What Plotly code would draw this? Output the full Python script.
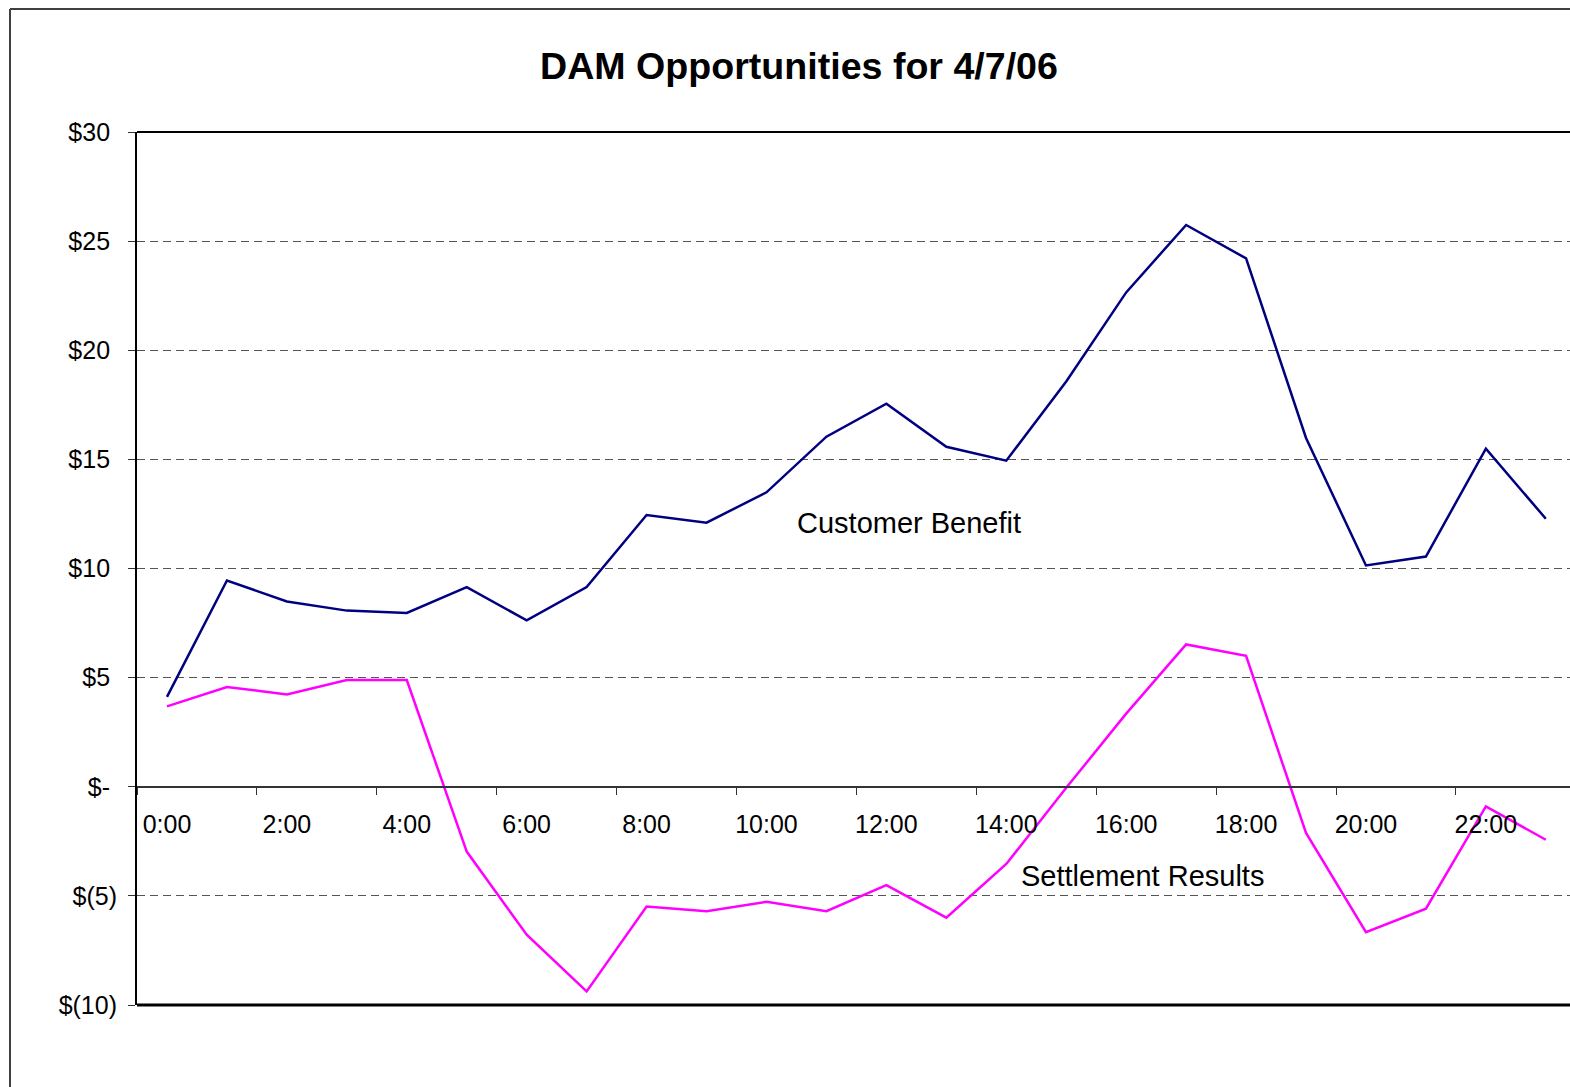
import plotly.graph_objects as go

# ---- data ----
hours = ["0:00", "1:00", "2:00", "3:00", "4:00", "5:00", "6:00", "7:00",
         "8:00", "9:00", "10:00", "11:00", "12:00", "13:00", "14:00", "15:00",
         "16:00", "17:00", "18:00", "19:00", "20:00", "21:00", "22:00", "23:00"]
customer_benefit = [4.12, 9.45, 8.49, 8.07, 7.96, 9.15, 7.62, 9.15,
                    12.45, 12.10, 13.49, 16.04, 17.55, 15.58, 14.94, 18.57,
                    22.65, 25.74, 24.21, 15.98, 10.14, 10.55, 15.49, 12.28]
settlement_results = [3.68, 4.57, 4.23, 4.89, 4.89, -2.97, -6.78, -9.38,
                      -5.49, -5.70, -5.27, -5.70, -4.51, -6.00, -3.54, -0.05,
                      3.35, 6.52, 6.00, -2.12, -6.66, -5.59, -0.90, -2.43]
y_tick_values = [-10, -5, 0, 5, 10, 15, 20, 25, 30]
y_tick_labels = ["$(10)", "$(5)", "$-\u00a0", "$5\u00a0", "$10\u00a0",
                 "$15\u00a0", "$20\u00a0", "$25\u00a0", "$30\u00a0"]
title_text = "DAM Opportunities for 4/7/06"

x_idx = list(range(len(hours)))

W, H = 1570, 1087
ML, MR, MT, MB = 137, 0, 132, 82
PW, PH = W - ML - MR, H - MT - MB
FONT = "Arial, 'Liberation Sans', sans-serif"


def px_x(p):
    return (p - ML) / PW


def px_y(p):
    return (H - MB - p) / PH


fig = go.Figure()
fig.add_trace(go.Scatter(x=x_idx, y=customer_benefit, mode="lines",
                         line=dict(color="#000080", width=2.5),
                         name="Customer Benefit", showlegend=False))
fig.add_trace(go.Scatter(x=x_idx, y=settlement_results, mode="lines",
                         line=dict(color="#FF00FF", width=2.5),
                         name="Settlement Results", showlegend=False))

fig.update_layout(
    width=W, height=H,
    margin=dict(l=ML, r=MR, t=MT, b=MB, pad=0),
    paper_bgcolor="white", plot_bgcolor="white",
    font=dict(family=FONT, size=25, color="black"),
    title=dict(text="<b>" + title_text + "</b>", font=dict(size=37.6, family=FONT),
               x=799 / W, xanchor="center", xref="container",
               y=1 - 66 / H, yanchor="middle", yref="container"),
    xaxis=dict(
        range=[-0.5, -0.5 + PW / 59.95],
        anchor="free", position=0.25,
        showline=True, linecolor="#333333", linewidth=1.5,
        tickmode="array", tickvals=x_idx[::2], ticktext=hours[::2],
        ticks="", ticklen=0, showgrid=False, zeroline=False,
        tickfont=dict(size=25, family=FONT),
        ticklabelstandoff=15,
        minor=dict(tickmode="linear", tick0=1.5, dtick=2, ticks="outside",
                   ticklen=7, tickwidth=1, tickcolor="#333333", showgrid=False),
    ),
    yaxis=dict(
        range=[-10, 30],
        tickmode="array", tickvals=y_tick_values, ticktext=y_tick_labels,
        showline=True, linecolor="black", linewidth=2,
        ticks="outside", ticklen=7, tickwidth=1, tickcolor="#333333",
        showgrid=True, gridcolor="#555555", gridwidth=1, griddash="8px,5px",
        zeroline=False,
        tickfont=dict(size=25, family=FONT),
        ticklabelstandoff=6,
    ),
    annotations=[
        dict(text="Customer Benefit", x=12.38, y=12.1, xref="x", yref="y",
             showarrow=False, font=dict(size=29, family=FONT)),
        dict(text="Settlement Results", x=16.27, y=-4.1, xref="x", yref="y",
             showarrow=False, font=dict(size=29, family=FONT)),
    ],
    shapes=[
        # plot frame top & bottom
        dict(type="line", xref="paper", yref="paper", x0=0, x1=1, y0=1, y1=1,
             line=dict(color="black", width=2)),
        dict(type="line", xref="paper", yref="paper", x0=0, x1=1, y0=0, y1=0,
             line=dict(color="black", width=3)),
        # outer chart border (left & top edges visible)
        dict(type="line", xref="paper", yref="paper",
             x0=px_x(10), x1=px_x(10), y0=px_y(9), y1=px_y(1120),
             line=dict(color="#404040", width=2)),
        dict(type="line", xref="paper", yref="paper",
             x0=px_x(10), x1=px_x(1620), y0=px_y(9), y1=px_y(9),
             line=dict(color="#404040", width=2)),
    ],
)

fig.write_html("out.html", config={"displayModeBar": False})
